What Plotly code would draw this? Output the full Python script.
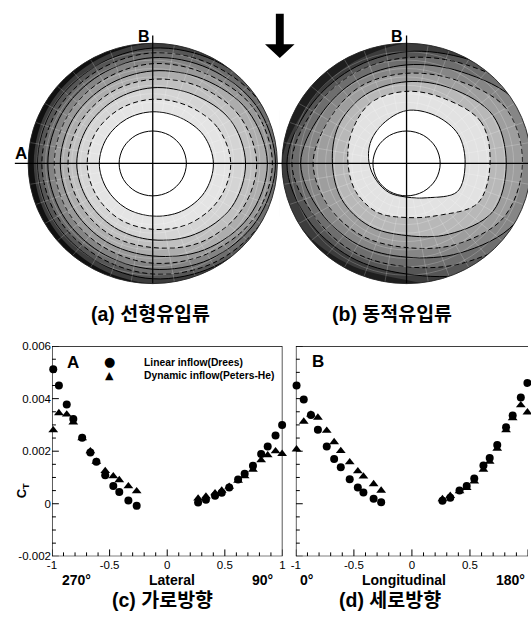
import numpy as np
import plotly.graph_objects as go

W, H = 531, 629

# ---------------- (c) lateral thrust distribution ----------------
lat_x = [-0.989, -0.940, -0.872, -0.815, -0.738, -0.667, -0.615, -0.538, -0.468, -0.416, -0.337, -0.265,
         0.268, 0.336, 0.415, 0.473, 0.538, 0.615, 0.672, 0.744, 0.815, 0.872, 0.940, 0.997]
lat_linear = [0.00512, 0.00450, 0.00378, 0.00323, 0.00251, 0.00195, 0.00160, 0.00108, 0.00068, 0.00045, 0.00012, -0.00008,
              0.00005, 0.00015, 0.00030, 0.00042, 0.00062, 0.00092, 0.00114, 0.00145, 0.00189, 0.00218, 0.00260, 0.00300]
lat_dynamic = [0.00280, 0.00345, 0.00340, 0.00310, 0.00250, 0.00200, 0.00160, 0.00125, 0.00105, 0.00090, 0.00067, 0.00048,
               0.00020, 0.00028, 0.00040, 0.00050, 0.00065, 0.00088, 0.00105, 0.00130, 0.00166, 0.00185, 0.00200, 0.00190]

# ---------------- (d) longitudinal thrust distribution ----------------
lon_x = [-0.994, -0.932, -0.870, -0.810, -0.734, -0.670, -0.613, -0.536, -0.466, -0.418, -0.330, -0.265,
         0.263, 0.330, 0.410, 0.472, 0.537, 0.616, 0.670, 0.735, 0.811, 0.868, 0.938, 0.995]
lon_linear = [0.00450, 0.00397, 0.00338, 0.00282, 0.00218, 0.00170, 0.00139, 0.00093, 0.00062, 0.00043, 0.00019, 0.00006,
              0.00011, 0.00023, 0.00050, 0.00068, 0.00096, 0.00146, 0.00174, 0.00224, 0.00291, 0.00336, 0.00404, 0.00460]
lon_dynamic = [0.00207, 0.00313, 0.00340, 0.00328, 0.00278, 0.00235, 0.00201, 0.00158, 0.00124, 0.00104, 0.00075, 0.00050,
               0.00018, 0.00030, 0.00048, 0.00060, 0.00085, 0.00130, 0.00160, 0.00210, 0.00280, 0.00326, 0.00375, 0.00348]

series_names = ["Linear inflow(Drees)", "Dynamic inflow(Peters-He)"]
series_keys = ["●", "▲"]
x_tick_vals = [-1, -0.5, 0, 0.5, 1]
x_tick_text = ["-1", "-0.5", "0", "0.5", "1"]
y_tick_vals = [-0.002, 0, 0.002, 0.004, 0.006]
y_tick_text = ["-0.002", "0", "0.002", "0.004", "0.006"]
X_RANGE = [-1, 1]
Y_RANGE = [-0.002, 0.006]

# ---------------- rotor-disk contour maps ----------------
# contour curves given as normalised radius at each azimuth (deg, 0 = right, ccw), outer -> inner
AZIMUTH_DEG = [0, 30, 60, 90, 120, 150, 180, 210, 240, 270, 300, 330]

disk_a_radii = [
    [1.05] * 12,
    [1.15, 1.10, 1.04, 1.00, 0.97, 0.96, 0.955, 0.96, 0.97, 1.00, 1.04, 1.10],
    [1.06, 1.04, 0.99, 0.96, 0.93, 0.925, 0.926, 0.925, 0.93, 0.96, 0.99, 1.04],
    [1.02, 1.00, 0.95, 0.92, 0.89, 0.885, 0.89, 0.885, 0.89, 0.92, 0.96, 1.00],
    [0.985, 0.96, 0.91, 0.88, 0.85, 0.84, 0.842, 0.84, 0.85, 0.88, 0.92, 0.96],
    [0.96, 0.93, 0.86, 0.83, 0.80, 0.79, 0.79, 0.79, 0.80, 0.83, 0.87, 0.93],
    [0.92, 0.88, 0.81, 0.77, 0.745, 0.74, 0.742, 0.74, 0.75, 0.77, 0.83, 0.89],
    [0.834, 0.80, 0.74, 0.70, 0.68, 0.675, 0.68, 0.675, 0.685, 0.70, 0.76, 0.81],
    [0.745, 0.72, 0.66, 0.63, 0.61, 0.605, 0.61, 0.605, 0.615, 0.636, 0.68, 0.73],
    [0.626, 0.60, 0.555, 0.534, 0.525, 0.525, 0.526, 0.525, 0.535, 0.548, 0.58, 0.61],
    [0.487, 0.47, 0.44, 0.43, 0.425, 0.425, 0.429, 0.425, 0.43, 0.438, 0.46, 0.48],
    [0.27] * 12,
]
disk_a_style = ["none", "none", "solid", "dash", "solid", "dash", "solid", "dash", "solid", "dash", "solid", "solid"]
disk_a_fill = ["#101010", "#3c3c3c", "#565656", "#6e6e6e", "#848484", "#999999",
               "#adadad", "#c0c0c0", "#d4d4d4", "#e4e4e4", "#ffffff", "#ffffff"]

disk_b_radii = [
    [1.05] * 12,
    [1.30, 1.30, 1.10, 1.00, 0.94, 0.93, 1.00, 1.00, 0.96, 0.97, 1.20, 1.30],
    [1.20, 1.20, 1.00, 0.93, 0.90, 0.91, 0.96, 0.92, 0.90, 0.92, 1.05, 1.20],
    [1.15, 1.10, 0.95, 0.88, 0.86, 0.87, 0.92, 0.86, 0.85, 0.86, 0.95, 1.10],
    [1.05, 1.02, 0.88, 0.82, 0.80, 0.80, 0.85, 0.80, 0.78, 0.78, 0.86, 1.00],
    [0.93, 0.92, 0.80, 0.75, 0.74, 0.72, 0.75, 0.72, 0.70, 0.70, 0.78, 0.90],
    [0.80, 0.80, 0.72, 0.68, 0.66, 0.63, 0.595, 0.60, 0.60, 0.60, 0.68, 0.80],
    [0.67, 0.69, 0.62, 0.60, 0.58, 0.51, 0.47, 0.47, 0.47, 0.45, 0.50, 0.66],
    [0.47, 0.48, 0.46, 0.44, 0.38, 0.337, 0.30, 0.28, 0.28, 0.28, 0.33, 0.47],
    [0.27] * 12,
]
disk_b_style = ["none", "none", "solid", "dash", "solid", "dash", "solid", "dash", "solid", "solid"]
disk_b_fill = ["#1e1e1e", "#3c3c3c", "#565656", "#6e6e6e", "#868686", "#9e9e9e",
               "#b8b8b8", "#e2e2e2", "#ffffff", "#ffffff"]

# ---------------- layout geometry (pixels) ----------------
A_CX, B_CX, CY = 150.0, 407.7, 160.5
RX, RY = 126.5, 122.5
SPLIT, DISK_BOTTOM = 279.2, 300.0
C_LEFT, C_RIGHT, D_LEFT, D_RIGHT = 47.7, 281.7, 295.3, 531.0
P_TOP, P_BOTTOM = 346.7, 561.0

FONT = "Liberation Sans, Arial, sans-serif"
KFONT = "Liberation Sans, Noto Sans CJK KR, sans-serif"

fig = go.Figure()

# ---- frame + inward ticks of the line plots, drawn in axis units (part of the axes, not data) ----
plot_h = P_BOTTOM - P_TOP
x_major = np.round(np.arange(-1, 1.0001, 0.5), 4)
x_minor = [v for v in np.round(np.arange(-1, 1.0001, 0.1), 4) if not np.any(np.isclose(v, x_major))]
y_major = np.round(np.arange(-0.002, 0.00601, 0.002), 6)
y_minor = [v for v in np.round(np.arange(-0.002, 0.00601, 0.0005), 6) if not np.any(np.isclose(v, y_major))]

for xa, ya, left, right, closed in [("x", "y", C_LEFT, C_RIGHT, True), ("x2", "y2", D_LEFT, D_RIGHT, False)]:
    if closed:
        fx = [X_RANGE[0], X_RANGE[1], X_RANGE[1], X_RANGE[0], X_RANGE[0]]
        fy = [Y_RANGE[0], Y_RANGE[0], Y_RANGE[1], Y_RANGE[1], Y_RANGE[0]]
    else:
        fx = [X_RANGE[1], X_RANGE[0], X_RANGE[0], X_RANGE[1]]
        fy = [Y_RANGE[1], Y_RANGE[1], Y_RANGE[0], Y_RANGE[0]]
    fig.add_trace(go.Scatter(x=fx, y=fy, mode="lines", line=dict(color="black", width=1.3),
                             xaxis=xa, yaxis=ya, cliponaxis=False, showlegend=False, hoverinfo="skip"))
    ux = (X_RANGE[1] - X_RANGE[0]) / (right - left)      # axis units per pixel
    uy = (Y_RANGE[1] - Y_RANGE[0]) / plot_h
    tx, ty = [], []
    for vals, ln in [(x_major, 7), (x_minor, 4)]:
        for v in vals:
            tx += [float(v), float(v), None]
            ty += [Y_RANGE[0], Y_RANGE[0] + ln * uy, None]
    for vals, ln in [(y_major, 7), (y_minor, 4)]:
        for v in vals:
            tx += [X_RANGE[0], X_RANGE[0] + ln * ux, None]
            ty += [float(v), float(v), None]
    fig.add_trace(go.Scatter(x=tx, y=ty, mode="lines", line=dict(color="black", width=1),
                             xaxis=xa, yaxis=ya, cliponaxis=False, showlegend=False, hoverinfo="skip"))

# ---- scatter plots ----
for xa, ya, xs, lin, dyn in [("x", "y", lat_x, lat_linear, lat_dynamic),
                             ("x2", "y2", lon_x, lon_linear, lon_dynamic)]:
    fig.add_trace(go.Scatter(x=xs, y=lin, mode="markers", name=series_names[0], xaxis=xa, yaxis=ya,
                             marker=dict(symbol="circle", size=8, color="black"), cliponaxis=False,
                             showlegend=False))
    fig.add_trace(go.Scatter(x=xs, y=dyn, mode="markers", name=series_names[1], xaxis=xa, yaxis=ya,
                             marker=dict(symbol="triangle-up", size=8.5, color="black"), cliponaxis=False,
                             showlegend=False))

# ---- contour disks ----
def add_disk(radii_table, styles, fills, xa, ya):
    th = np.deg2rad(AZIMUTH_DEG + [AZIMUTH_DEG[0]])
    for radii, style, fc in zip(radii_table, styles, fills):
        r = np.array(radii + [radii[0]], dtype=float)
        line = dict(color="black", width=1.0, shape="spline", smoothing=1.0)
        if style == "none":
            line["width"] = 0
        elif style == "dash":
            line["dash"] = "5px,3px"
        fig.add_trace(go.Scatter(x=r * np.cos(th), y=r * np.sin(th), mode="lines", fill="toself",
                                 fillcolor=fc, line=line, xaxis=xa, yaxis=ya,
                                 showlegend=False, hoverinfo="skip"))

add_disk(disk_a_radii, disk_a_style, disk_a_fill, "x3", "y3")
add_disk(disk_b_radii, disk_b_style, disk_b_fill, "x4", "y4")

shapes = []
mesh_col = "rgba(255,255,255,0.35)"
for xr, yr in [("x3", "y3"), ("x4", "y4")]:
    for rr in np.arange(0.30, 0.99, 0.07):
        shapes.append(dict(type="circle", xref=xr, yref=yr, x0=-rr, x1=rr, y0=-rr, y1=rr,
                           line=dict(color=mesh_col, width=0.6), layer="above"))
    for ang in np.arange(0, 360, 10):
        t = np.deg2rad(ang)
        shapes.append(dict(type="line", xref=xr, yref=yr, x0=0.3 * np.cos(t), y0=0.3 * np.sin(t),
                           x1=np.cos(t), y1=np.sin(t), line=dict(color=mesh_col, width=0.6), layer="above"))
    tt = np.linspace(0, 2 * np.pi, 181)[:-1]
    hole = " ".join(("M" if i == 0 else "L") + f"{np.cos(a):.5f},{np.sin(a):.5f}" for i, a in enumerate(tt)) + " Z"
    path = "M-1.3,-1.2 L1.3,-1.2 L1.3,1.35 L-1.3,1.35 Z " + hole
    shapes.append(dict(type="path", xref=xr, yref=yr, path=path, fillcolor="white", fillrule="evenodd",
                       line=dict(width=0), layer="above"))
    shapes.append(dict(type="circle", xref=xr, yref=yr, x0=-1, x1=1, y0=-1, y1=1,
                       line=dict(color="#222222", width=0.9), layer="above"))
    shapes.append(dict(type="line", xref=xr, yref=yr, x0=0, x1=0, y0=-1.0, y1=(CY - 30) / RY,
                       line=dict(color="black", width=1.3), layer="above"))

# horizontal crosshair through both disks
shapes.append(dict(type="line", xref="paper", yref="paper", x0=10 / W, x1=1, y0=1 - CY / H, y1=1 - CY / H,
                   line=dict(color="black", width=1.3), layer="above"))

# down arrow between the disks
arrow_px = [(275, 8), (283, 8), (283, 39), (294, 39), (279, 53), (264, 39), (275, 39)]
arrow_path = " ".join(("M" if i == 0 else "L") + f"{px / W:.5f},{1 - py / H:.5f}" for i, (px, py) in enumerate(arrow_px)) + " Z"
shapes.append(dict(type="path", xref="paper", yref="paper", path=arrow_path, fillcolor="black",
                   line=dict(width=0), layer="above"))

# ---- annotations ----
def ann(text, px, py, size, bold=True, family=FONT, angle=0, xanchor="center"):
    return dict(text=text, x=px / W, y=1 - py / H, xref="paper", yref="paper", showarrow=False,
                xanchor=xanchor, yanchor="middle", textangle=angle,
                font=dict(family=family, size=size, color="black", weight="bold" if bold else "normal"))

annotations = [
    ann("A", 16, 150, 17),
    ann("B", 141, 31.5, 16),
    ann("B", 398.5, 31.5, 16),
    ann("(a) 선형유입류", 147.5, 313.5, 19.5, bold=True, family=KFONT),
    ann("(b) 동적유입류", 393.3, 313.5, 19.5, bold=True, family=KFONT),
    ann("(c) 가로방향", 160, 606, 19.5, bold=True, family=KFONT),
    ann("(d) 세로방향", 390.8, 606, 19.5, bold=True, family=KFONT),
    ann("A", 69.5, 363, 17),
    ann("B", 318, 362, 17),
    ann("C<sub>T</sub>", 18, 494, 13, angle=-90),
    # legend
    ann(series_keys[0], 106, 362.5, 13, bold=False, family="DejaVu Sans"),
    ann(series_keys[1], 106, 376.3, 11, bold=False, family="DejaVu Sans"),
    ann(series_names[0], 139, 363, 10.3, xanchor="left"),
    ann(series_names[1], 139, 377, 10.3, xanchor="left"),
]
for xa, lbls in [("x", [("270°", -0.784), ("Lateral", 0.04), ("90°", 0.83)]),
                 ("x2", [("0°", -0.91), ("Longitudinal", -0.07), ("180°", 0.85)])]:
    for t, xv in lbls:
        annotations.append(dict(text=t, x=xv, y=1 - 585 / H, xref=xa, yref="paper", showarrow=False,
                                xanchor="center", yanchor="middle",
                                font=dict(family=FONT, size=14, color="black", weight="bold")))

def xaxis_cfg(domain):
    return dict(domain=domain, range=X_RANGE, tickmode="array", tickvals=x_tick_vals, ticktext=x_tick_text,
                ticks="", showgrid=False, zeroline=False, showline=False,
                tickfont=dict(family=FONT, size=11.5, color="black"), fixedrange=True)

def yaxis_cfg(domain, labels):
    return dict(domain=domain, range=Y_RANGE, tickmode="array", tickvals=y_tick_vals,
                ticktext=y_tick_text, showticklabels=labels, ticks="",
                showgrid=False, zeroline=False, showline=False,
                tickfont=dict(family=FONT, size=11.5, color="black"), fixedrange=True)

ydom = [(H - P_BOTTOM) / H, (H - P_TOP) / H]
disk_ydom = [(H - DISK_BOTTOM) / H, 1]
disk_yrange = [-(DISK_BOTTOM - CY) / RY, CY / RY]
hidden = dict(visible=False, showgrid=False, zeroline=False, fixedrange=True)

fig.update_layout(
    width=W, height=H, margin=dict(l=0, r=0, t=0, b=0),
    paper_bgcolor="white", plot_bgcolor="white",
    xaxis=dict(anchor="y", **xaxis_cfg([C_LEFT / W, C_RIGHT / W])),
    yaxis=dict(anchor="x", **yaxis_cfg(ydom, True)),
    xaxis2=dict(anchor="y2", **xaxis_cfg([D_LEFT / W, D_RIGHT / W])),
    yaxis2=dict(anchor="x2", **yaxis_cfg(ydom, False)),
    xaxis3=dict(domain=[0, SPLIT / W], range=[-A_CX / RX, (SPLIT - A_CX) / RX], anchor="y3", **hidden),
    yaxis3=dict(domain=disk_ydom, range=disk_yrange, anchor="x3", **hidden),
    xaxis4=dict(domain=[SPLIT / W, 1], range=[(SPLIT - B_CX) / RX, (W - B_CX) / RX], anchor="y4", **hidden),
    yaxis4=dict(domain=disk_ydom, range=disk_yrange, anchor="x4", **hidden),
    shapes=shapes, annotations=annotations, showlegend=False,
)

fig.write_html("out.html")
